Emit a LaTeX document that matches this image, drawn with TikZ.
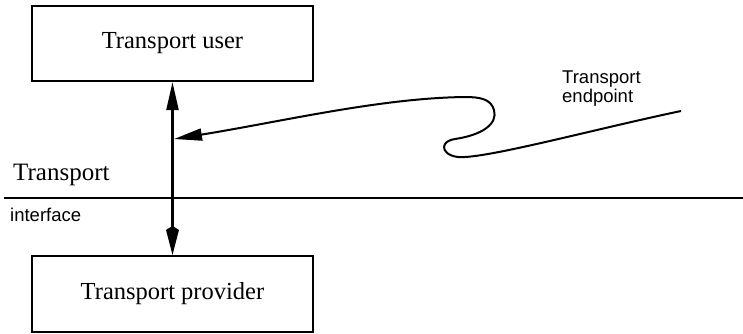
\documentclass[tikz,border=0pt]{standalone}
\usepackage{fontspec}
\setmainfont{Liberation Serif}
\setsansfont{Liberation Sans}
\usetikzlibrary{arrows.meta}

\begin{document}
\begin{tikzpicture}[x=1pt, y=-1pt,
  layer/.style={draw, line width=2.2pt, minimum width=281pt, minimum height=75pt,
    inner sep=0pt, font=\fontsize{24.5}{29}\selectfont},
  big/.style={inner sep=0pt, font=\fontsize{25}{29}\selectfont},
  small/.style={inner sep=0pt, align=left, font=\sffamily\fontsize{18.5}{19}\selectfont}]
\useasboundingbox (0,0) rectangle (743,333);
\node[layer] (user) at (172.5,43.5) {Transport user};
\node[layer, minimum height=76pt] (provider) at (172.5,294) {Transport provider};
\node[big, anchor=base west] (tname) at (13,180) {Transport};
\node[small, anchor=base west] (iname) at (10,221) {interface};
\node[small, anchor=north west] (epname) at (562,70.5) {Transport\\endpoint};
\coordinate (ifl) at (4,198);
\coordinate (ifr) at (743,198);
\coordinate (ep) at (681,111);
\coordinate (hit) at (174,139);
% interface line
\draw[line width=2.2pt] (ifl) -- (ifr);
% user <-> provider
\draw[line width=2.2pt, {Triangle[length=28pt,width=12pt]}-{Kite[length=29pt,width=13pt,inset=4pt]}]
  (user.south) -- (provider.north);
% endpoint
\draw[line width=2pt, -{Triangle[length=28pt,width=12pt]}]
  (ep) .. controls (600,128) and (500,155) .. (465,157)
  .. controls (443,159) and (436,142) .. (455,139)
  .. controls (482,135) and (498,124) .. (494,110)
  .. controls (491,99) and (480,97) .. (465,97)
  .. controls (380,98) and (280,122) .. (hit);
\end{tikzpicture}
\end{document}
